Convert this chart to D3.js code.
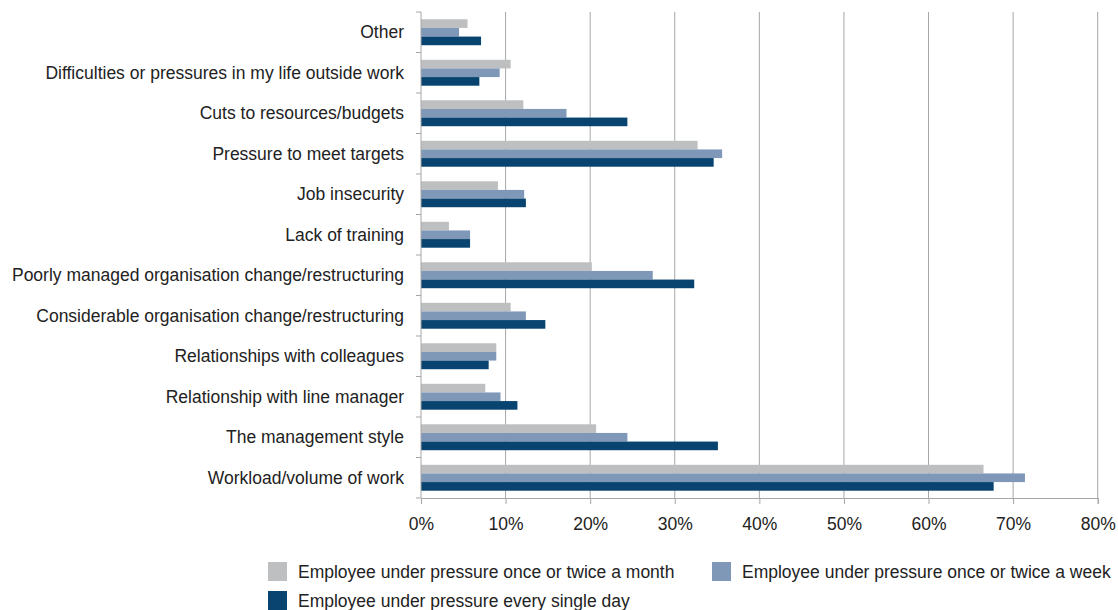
<!DOCTYPE html>
<html>
<head>
<meta charset="utf-8">
<script src="https://cdn.jsdelivr.net/npm/d3@7"></script>
<style>
  body { margin: 0; background: #fff; }
  text { font-family: "Liberation Sans", Arial, sans-serif; fill: #222; }
</style>
</head>
<body>
<div id="chart-container"></div>
<script>
// categories top to bottom
const categories = [
  "Other",
  "Difficulties or pressures in my life outside work",
  "Cuts to resources/budgets",
  "Pressure to meet targets",
  "Job insecurity",
  "Lack of training",
  "Poorly managed organisation change/restructuring",
  "Considerable organisation change/restructuring",
  "Relationships with colleagues",
  "Relationship with line manager",
  "The management style",
  "Workload/volume of work"
];

const seriesNames = [
  "Employee under pressure once or twice a month",
  "Employee under pressure once or twice a week",
  "Employee under pressure every single day"
];

const monthly = [5.5, 10.6, 12.1, 32.7, 9.1, 3.3, 20.2, 10.6, 8.9, 7.6, 20.7, 66.5];
const weekly = [4.5, 9.3, 17.2, 35.6, 12.2, 5.8, 27.4, 12.4, 8.9, 9.4, 24.4, 71.4];
const daily = [7.1, 6.9, 24.4, 34.6, 12.4, 5.8, 32.3, 14.7, 8.0, 11.4, 35.1, 67.7];

const xTicks = [0, 10, 20, 30, 40, 50, 60, 70, 80];

const colors = ["#bebfc1", "#7f98b7", "#08446f"];

const width = 1118;
const height = 610;
const margins = { top: 12, right: 20, bottom: 112, left: 421 };
const chartWidth = 1097.7 - margins.left;
const chartHeight = 498 - margins.top;
const fontSize = 17.5;

const seriesData = [monthly, weekly, daily];

const svg = d3
  .select("#chart-container")
  .append("svg")
  .attr("width", width)
  .attr("height", height);

const chart = svg
  .append("g")
  .attr("transform", `translate(${margins.left}, ${margins.top})`);

const xScale = d3.scaleLinear().domain([0, 80]).range([0, chartWidth]);

const yScale = d3
  .scaleBand()
  .domain(categories)
  .range([0, chartHeight])
  .paddingInner(0.36)
  .paddingOuter(0.18);

const ySub = d3
  .scaleBand()
  .domain(d3.range(seriesNames.length))
  .range([0, yScale.bandwidth()]);

// vertical gridlines
chart
  .selectAll("line.grid")
  .data(xTicks.filter(d => d > 0))
  .enter()
  .append("line")
  .attr("class", "grid")
  .attr("x1", d => xScale(d))
  .attr("x2", d => xScale(d))
  .attr("y1", 0)
  .attr("y2", chartHeight)
  .attr("stroke", "#a6a6a6")
  .attr("stroke-width", 1);

// bars
const groups = chart
  .selectAll("g.cat")
  .data(categories)
  .enter()
  .append("g")
  .attr("class", "cat")
  .attr("transform", d => `translate(0, ${yScale(d)})`);

groups
  .selectAll("rect")
  .data((d, i) => seriesData.map((s, k) => ({ k, v: s[i] })))
  .enter()
  .append("rect")
  .attr("x", 0)
  .attr("y", d => ySub(d.k))
  .attr("width", d => xScale(d.v))
  .attr("height", ySub.bandwidth())
  .attr("fill", d => colors[d.k]);

// x axis
const xAxis = d3
  .axisBottom(xScale)
  .tickValues(xTicks)
  .tickFormat(d => d + "%")
  .tickSize(6)
  .tickPadding(14);

const gx = chart
  .append("g")
  .attr("transform", `translate(0, ${chartHeight})`)
  .call(xAxis);

gx.select(".domain").attr("stroke", "#a6a6a6");
gx.selectAll(".tick line").attr("stroke", "#a6a6a6");
gx.selectAll(".tick text")
  .attr("font-size", fontSize)
  .attr("font-family", "Liberation Sans, Arial, sans-serif")
  .attr("fill", "#222");

// y axis line with boundary ticks
chart
  .append("line")
  .attr("x1", 0)
  .attr("x2", 0)
  .attr("y1", 0)
  .attr("y2", chartHeight)
  .attr("stroke", "#a6a6a6");

const step = yScale.step();
chart
  .selectAll("line.ytick")
  .data(d3.range(categories.length + 1))
  .enter()
  .append("line")
  .attr("class", "ytick")
  .attr("x1", -5)
  .attr("x2", 0)
  .attr("y1", i => i * step)
  .attr("y2", i => i * step)
  .attr("stroke", "#a6a6a6");

// category labels
chart
  .selectAll("text.cat-label")
  .data(categories)
  .enter()
  .append("text")
  .attr("class", "cat-label")
  .attr("x", -17)
  .attr("y", d => yScale(d) + yScale.bandwidth() / 2)
  .attr("dy", "0.35em")
  .attr("text-anchor", "end")
  .attr("font-size", fontSize)
  .text(d => d);

// legend
const legendPos = [
  { x: 268, y: 562 },
  { x: 712, y: 562 },
  { x: 268, y: 591 }
];

const legend = svg
  .selectAll("g.legend")
  .data(seriesNames)
  .enter()
  .append("g")
  .attr("class", "legend")
  .attr("transform", (d, i) => `translate(${legendPos[i].x}, ${legendPos[i].y})`);

legend
  .append("rect")
  .attr("width", 19)
  .attr("height", 19)
  .attr("fill", (d, i) => colors[i]);

legend
  .append("text")
  .attr("x", 30)
  .attr("y", 10)
  .attr("dy", "0.35em")
  .attr("font-size", fontSize)
  .text(d => d);
</script>
</body>
</html>
